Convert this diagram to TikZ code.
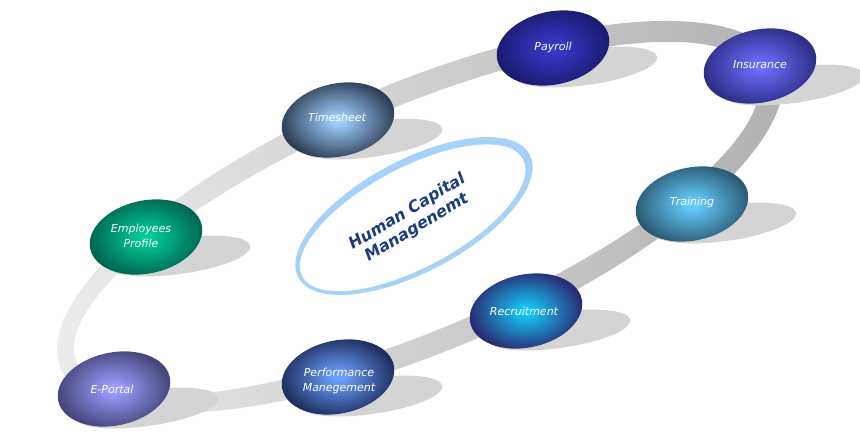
\documentclass[tikz,border=0pt]{standalone}
\usepackage{fontspec}
\setmainfont{DejaVu Sans}
\usetikzlibrary{positioning}

\definecolor{hcmblue}{HTML}{1C3C7C}
\definecolor{hcmring}{HTML}{A6D2FA}
\definecolor{shadowgray}{HTML}{D4D4D4}
\colorlet{bubin}{white}
\colorlet{bubmid}{gray}
\colorlet{bubout}{black}
\pgfdeclareradialshading[bubin,bubmid,bubout]{bubble}{\pgfpointorigin}{%
  color(0bp)=(bubin); color(2bp)=(bubin); color(11bp)=(bubmid); color(24bp)=(bubout); color(50bp)=(bubout)}

\tikzset{
  bubble/.style 2 args={shading=bubble,
    /utils/exec={\definecolor{bubin}{HTML}{#1}\definecolor{bubout}{HTML}{#2}\colorlet{bubmid}{bubin!60!bubout}}},
  tag/.style={text=white,align=center,inner sep=0pt,
    font=\fontsize{11}{14.5}\selectfont\itshape},
  hcmtext/.style={text=hcmblue,align=center,inner sep=0pt,
    font=\fontsize{16}{18.5}\selectfont\bfseries\itshape}
}

\begin{document}
\begin{tikzpicture}[x=1pt,y=1pt]
\useasboundingbox (0,0) rectangle (860,442);
% ring
\shade[even odd rule,left color=gray!14,middle color=gray!26,right color=gray!62,
  rotate around={23:(420,225)}] (420,225) ellipse (390 and 134) (416,225) ellipse (369 and 111);
% centre
\fill[hcmring,even odd rule,rotate around={28:(414,226)}] (414,226) ellipse (131 and 56) (412,225) ellipse (125 and 50);
\node[hcmtext,rotate=31] (hcm) at (412,222) {Human Capital\\Managenemt};
% Payroll
\fill[shadowgray,rotate around={8:(586,375)}] (586,375) ellipse (72 and 18);
\shade[bubble={3838CC}{1B1B6E},rotate around={12:(553,394)}] (553,394) ellipse (57 and 36.5);
\node[tag] (payroll) at (553,395) {Payroll};
% Insurance
\fill[shadowgray,rotate around={8:(793,357)}] (793,357) ellipse (72 and 18);
\shade[bubble={6C6CFF}{2E2E85},rotate around={12:(760,376)}] (760,376) ellipse (57 and 36.5);
\node[tag] (insurance) at (760,377) {Insurance};
% Training
\fill[shadowgray,rotate around={8:(725,219)}] (725,219) ellipse (72 and 18);
\shade[bubble={66CCFF}{2B5A75},rotate around={12:(692,238)}] (692,238) ellipse (57 and 36.5);
\node[tag] (training) at (692,240) {Training};
% Recruitment
\fill[shadowgray,rotate around={8:(559,112)}] (559,112) ellipse (72 and 18);
\shade[bubble={14C8F8}{2A2A72},rotate around={12:(526,131)}] (526,131) ellipse (57 and 36.5);
\node[tag] (recruit) at (524,131) {Recruitment};
% Performance
\fill[shadowgray,rotate around={8:(371,46)}] (371,46) ellipse (72 and 18);
\shade[bubble={6AA0FF}{1E2E5E},rotate around={12:(338,65)}] (338,65) ellipse (57 and 36.5);
\node[tag] (perform) at (339,61) {Performance\\Manegement};
% E-Portal
\fill[shadowgray,rotate around={8:(147,34)}] (147,34) ellipse (72 and 18);
\shade[bubble={9C9CFF}{45457A},rotate around={12:(114,53)}] (114,53) ellipse (57 and 36.5);
\node[tag] (eportal) at (112,53) {E-Portal};
% Employees Profile
\fill[shadowgray,rotate around={8:(179,186)}] (179,186) ellipse (72 and 18);
\shade[bubble={00CC99}{006650},rotate around={12:(146,205)}] (146,205) ellipse (57 and 36.5);
\node[tag] (employ) at (141,206) {Employees\\Profile};
% Timesheet
\fill[shadowgray,rotate around={8:(371,303)}] (371,303) ellipse (72 and 18);
\shade[bubble={9DCFFF}{2E3E56},rotate around={12:(338,322)}] (338,322) ellipse (57 and 36.5);
\node[tag] (timesheet) at (337,325) {Timesheet};
\end{tikzpicture}
\end{document}
